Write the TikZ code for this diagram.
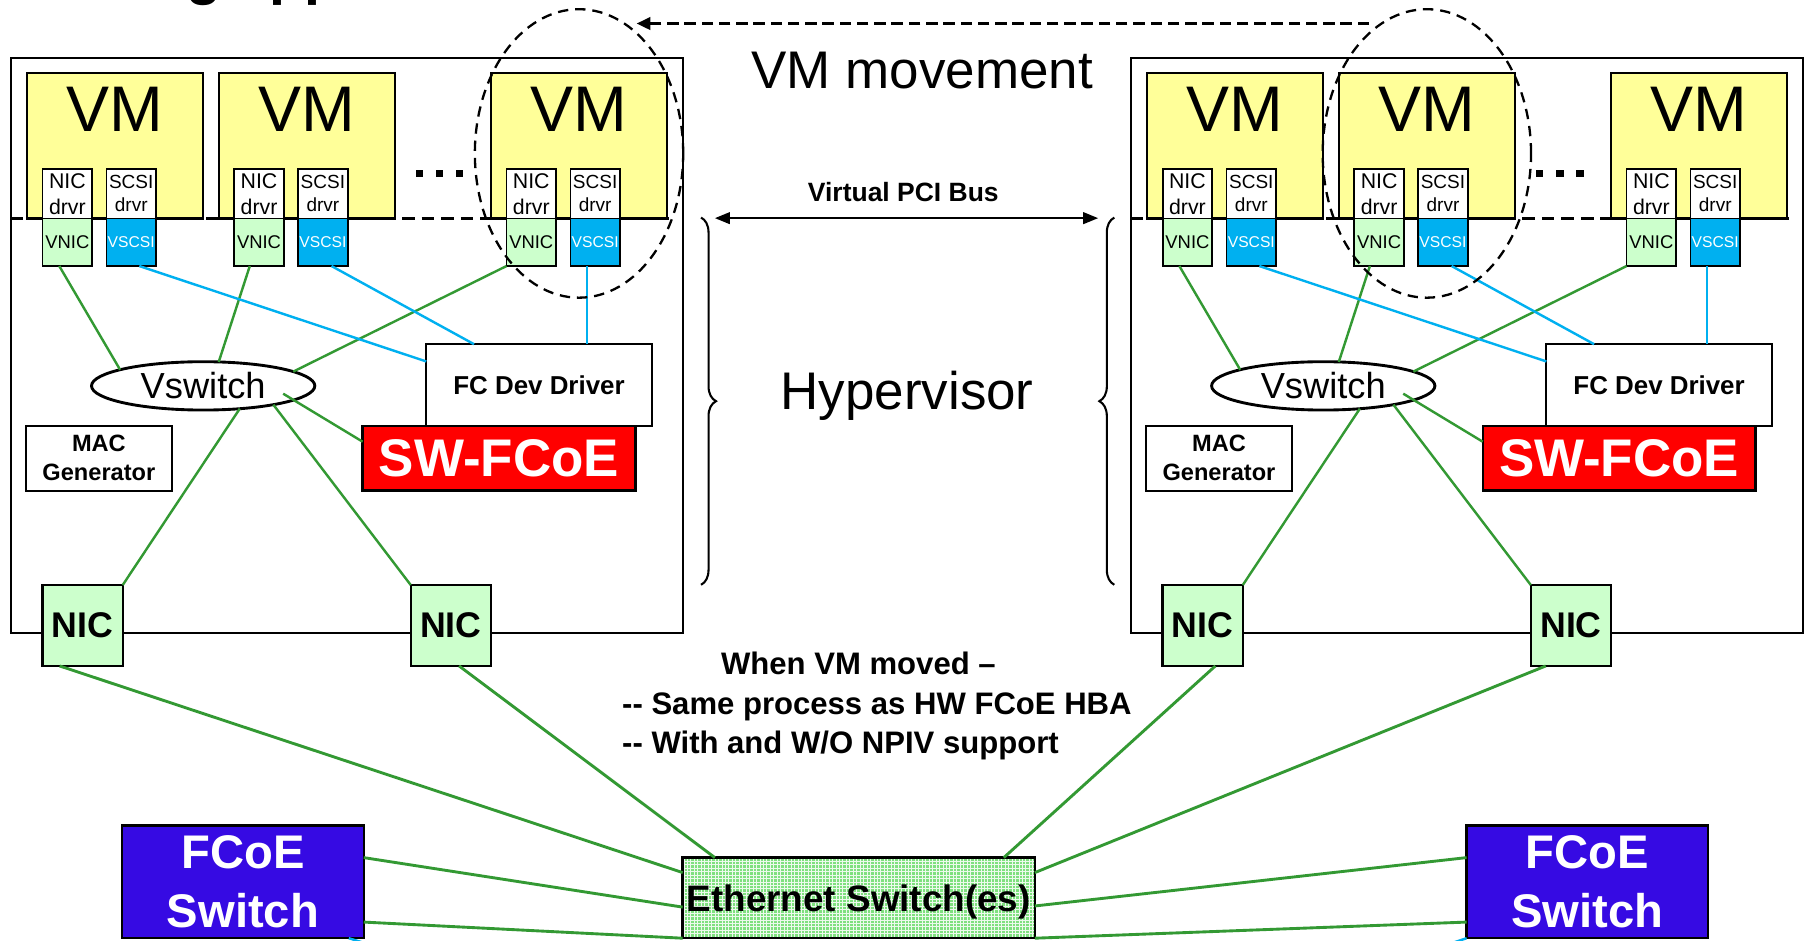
\documentclass[tikz,border=0pt]{standalone}
\usepackage{fontspec}
\setmainfont{Liberation Sans}
\usetikzlibrary{shapes.geometric,arrows.meta,calc,decorations.pathreplacing,patterns}

\definecolor{vmyellow}{HTML}{FFFF99}
\definecolor{vnicgreen}{HTML}{CCFFCC}
\definecolor{scsiblue}{HTML}{00B0F0}
\definecolor{linegreen}{HTML}{339933}
\definecolor{fcoeblue}{HTML}{360AE3}
\definecolor{ethgreen}{HTML}{7FE07F}
\definecolor{swred}{HTML}{FF0000}

\newcommand\fsz[2]{\fontsize{#1}{#2}\selectfont}

\tikzset{
  base box/.style={draw, line width=1.6pt, inner sep=0pt, outer sep=0pt, anchor=north west},
  hostbox/.style={base box, line width=1.8pt, minimum width=584.2pt, minimum height=499.4pt},
  vmbox/.style={base box, fill=vmyellow, line width=2pt, minimum width=153pt, minimum height=126pt},
  vmlabel/.style={inner sep=0pt, anchor=base, font=\fsz{56}{60}},
  drvbox/.style={base box, fill=white, line width=1.5pt, minimum width=43pt, minimum height=42.6pt, align=center},
  vnicbox/.style={base box, fill=vnicgreen, line width=1.5pt, minimum width=43pt, minimum height=41.4pt, font=\fsz{16}{18}},
  vscsibox/.style={vnicbox, fill=scsiblue, text=white, font=\fsz{13.6}{16}},
  vswitch/.style={ellipse, draw, fill=white, line width=2.5pt, inner sep=0pt, outer sep=0pt, minimum width=194pt, minimum height=42pt, font=\fsz{31.5}{34}},
  fcbox/.style={base box, fill=white, minimum width=195.9pt, minimum height=71pt, font=\bfseries\fsz{22.5}{26}},
  swbox/.style={base box, fill=swred, line width=2pt, minimum width=237pt, minimum height=56pt, text=white, font=\bfseries\fsz{46}{50}},
  macbox/.style={base box, fill=white, minimum width=126.8pt, minimum height=56.4pt, align=center, font=\bfseries\fsz{20.5}{25}},
  nicbox/.style={base box, fill=vnicgreen, line width=2pt, minimum width=69.8pt, minimum height=70.3pt, font=\bfseries\fsz{31}{34}},
  fcoebox/.style={base box, fill=fcoeblue, line width=2pt, minimum width=210pt, minimum height=98pt, align=center, text=white, font=\bfseries\fsz{41}{51}},
  ethbox/.style={base box, line width=2pt, minimum width=306pt, minimum height=70pt, text depth=0pt,
    preaction={fill=ethgreen}, pattern=grid, pattern color=white!85!ethgreen, font=\bfseries\fsz{32}{36}},
  gline/.style={draw=linegreen, line width=2.1pt},
  gline2/.style={draw=linegreen, line width=2.5pt},
  bline/.style={draw=scsiblue, line width=2.1pt},
  vmdash/.style={draw, line width=2.2pt, dash pattern=on 11pt off 6pt},
  dashell/.style={ellipse, draw, line width=2pt, dash pattern=on 9pt off 6pt, inner sep=0pt, minimum width=181pt, minimum height=250.6pt},
  freetext/.style={inner sep=0pt, anchor=base},
  host/.pic={
    \node[hostbox] (-host) at (9.3,50.6) {};
    \draw[vmdash] ($(-host.north west)+(0,139.1)$) -- ($(-host.north east)+(-7,139.1)$);
    \foreach \i/\x in {1/23.5,2/190,3/426.5} {
      \node[vmbox] (-vm\i) at (\x,63.7) {};
      \node[vmlabel] (-vmt\i) at ($(-vm\i.north)+(0,50.1)$) {VM};
      \node[drvbox, font=\fsz{18.5}{22.3}] (-nd\i) at (\x+13.5,147.1) {NIC\\drvr};
      \node[drvbox, font=\fsz{16.5}{20}] (-sd\i) at (\x+69,147.1) {SCSI\\drvr};
      \node[vnicbox] (-vnic\i) at (\x+13.5,189.7) {VNIC};
      \node[vscsibox] (-vscsi\i) at (\x+69,189.7) {VSCSI};
    }
    \foreach \dx in {364.5,382,399.4} {
      \fill (\dx-3.2,147.7) rectangle (\dx+3.2,153.7);
    }
    \node[fcbox] (-fc) at (370.3,299) {FC Dev Driver};
    \node[swbox] (-sw) at (315,370) {SW-FCoE};
    \node[macbox] (-mac) at (22.5,369.8) {MAC\\Generator};
    \node[nicbox] (-nic1) at (36.8,508.2) {NIC};
    \node[nicbox] (-nic2) at (356.8,508.2) {NIC};
    \node[vswitch] (-vsw) at (176.5,335.2) {Vswitch};
    \draw[gline] ([xshift=-7pt]-vnic1.south) -- (-vsw.169);
    \draw[gline] ([xshift=-8pt]-vnic2.south) -- (-vsw.57);
    \draw[gline] (-vnic3.south west) -- (-vsw.9);
    \draw[bline] ([xshift=7pt]-vscsi1.south) -- ($(-fc.north west)+(0,15)$);
    \draw[bline] ([xshift=7.5pt]-vscsi2.south) -- ($(-fc.north west)+(41.5,0)$);
    \draw[bline] ([xshift=-7pt]-vscsi3.south) -- ($(-fc.north west)+(139.7,0)$);
    \draw[gline] ($(-vsw.center)+(69.5,6.8)$) -- ($(-sw.north west)+(0,13.7)$);
    \draw[gline] (-vsw.-32) -- (-nic1.north east);
    \draw[gline] (-vsw.-15) -- (-nic2.north west);
  }
}

\begin{document}
\begin{tikzpicture}[x=1pt,y=-1pt]
  \useasboundingbox (0,0) rectangle (1568,817);
  \fill[white] (0,0) rectangle (1568,817);

  \begin{scope}
    \clip (0,0) rectangle (1568,817);
    \node[freetext, anchor=base west, font=\bfseries\fsz{50}{55}] (title) at (162,-6) {g app};
  \end{scope}

  \pic (L) at (0,0) {host};
  \pic (R) at (973,0) {host};

  % dashed ellipses marking the moved VM
  \node[dashell] (lell) at (503,133.3) {};
  \node[dashell] (rell) at (1239.5,133.3) {};
  \draw[line width=2pt, dash pattern=on 10pt off 5pt, -{Triangle[length=12pt,width=11pt]},
        shorten <=9pt, shorten >=9pt] (rell.110) -- (lell.70);

  % middle annotations
  \node[freetext, font=\fsz{46}{50}] (vmmove) at (801.2,76.7) {VM movement};
  \node[freetext, font=\bfseries\fsz{23}{26}] (pcibus) at (784.7,175.2) {Virtual PCI Bus};
  \coordinate (pa) at (621,189.5);
  \coordinate (pb) at (954,189.5);
  \draw[line width=2pt, {Triangle[length=13pt,width=10pt]}-{Triangle[length=13pt,width=10pt]}] (pa) -- (pb);
  \coordinate (lbt) at (609,189);
  \coordinate (lbb) at (609,508);
  \coordinate (rbt) at (968,189);
  \coordinate (rbb) at (968,508);
  \draw[line width=1.8pt, decorate, decoration={brace, amplitude=13pt}] (lbt) -- (lbb);
  \draw[line width=1.8pt, decorate, decoration={brace, amplitude=13pt}] (rbb) -- (rbt);
  \node[freetext, font=\fsz{46}{50}] (hyper) at (788,356) {Hypervisor};

  \node[freetext, font=\bfseries\fsz{27}{30}] (when) at (745.7,585.7) {When VM moved --};
  \node[freetext, anchor=base west, font=\bfseries\fsz{27}{30}] (same) at (540.3,620.7) {-{}- Same process as HW FCoE HBA};
  \node[freetext, anchor=base west, font=\bfseries\fsz{27}{30}] (with) at (540.3,654.7) {-{}- With and W/O NPIV support};

  % bottom switches
  \node[ethbox] (eth) at (593,745) {Ethernet Switch(es)};
  \node[fcoebox] (fl) at (106,717) {FCoE\\Switch};
  \node[fcoebox] (fr) at (1274,717) {FCoE\\Switch};

  \draw[gline2] ($(L-nic1.south west)+(15,0)$) -- ($(eth.north west)+(0,13)$);
  \draw[gline2] ($(L-nic2.south west)+(42,0)$) -- ($(eth.north west)+(28,0)$);
  \draw[gline2] ($(fl.north east)+(0,28)$) -- ($(eth.north west)+(0,43)$);
  \draw[gline2] ($(fl.north east)+(0,84)$) -- (eth.south west);
  \draw[gline2] ($(R-nic1.south west)+(46,0)$) -- ($(eth.north east)+(-27,0)$);
  \draw[gline2] ($(R-nic2.south west)+(13,0)$) -- ($(eth.north east)+(0,13)$);
  \draw[gline2] ($(eth.north east)+(0,42)$) -- ($(fr.north west)+(0,28)$);
  \draw[gline2] (eth.south east) -- ($(fr.north west)+(0,84)$);

  \coordinate (blt) at (345,828);
  \coordinate (brt) at (1235,828);
  \draw[bline] ($(fl.south east)+(-13,0)$) -- (blt);
  \draw[bline] (fr.south west) -- (brt);
\end{tikzpicture}
\end{document}
